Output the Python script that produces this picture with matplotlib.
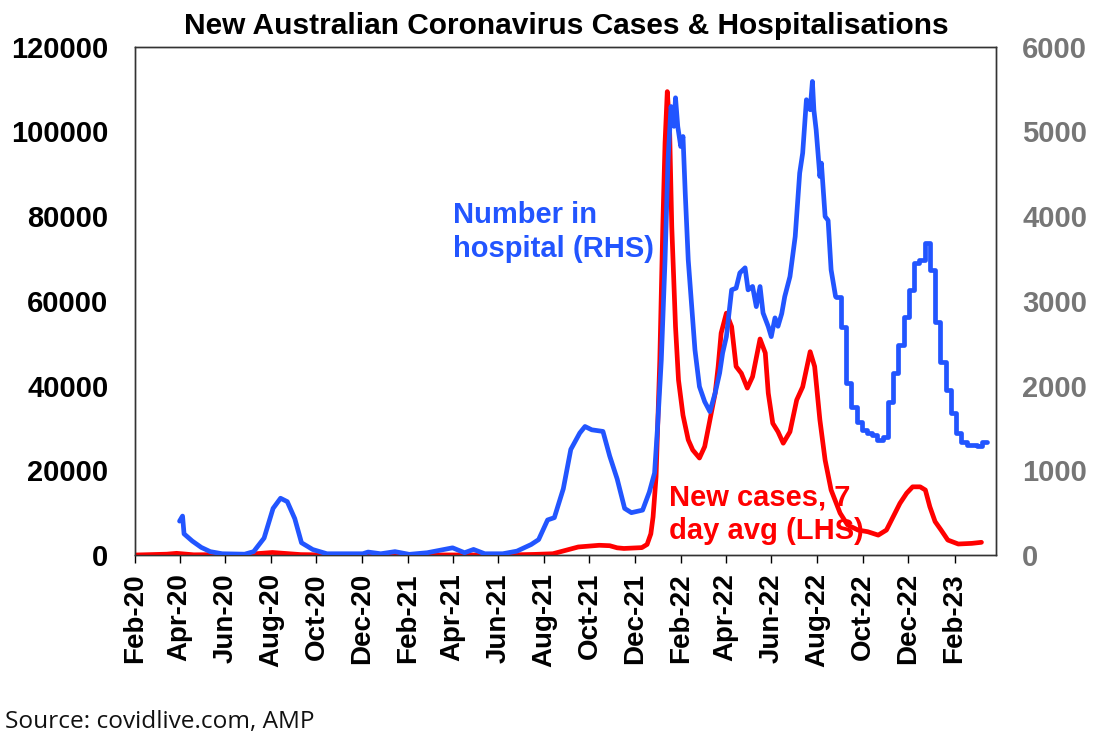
import numpy as np
import pandas as pd
import matplotlib
matplotlib.use("Agg")
import matplotlib.pyplot as plt
import matplotlib.dates as mdates

# Number in hospital (right axis) - daily-ish part
hosp_dates = [
    "2020-04-01", "2020-04-05", "2020-04-07", "2020-04-18", "2020-04-30", "2020-05-12",
    "2020-05-28", "2020-06-27", "2020-07-09", "2020-07-23", "2020-08-04", "2020-08-14",
    "2020-08-23", "2020-09-02", "2020-09-11", "2020-09-26", "2020-10-15", "2020-12-02",
    "2020-12-09", "2020-12-26", "2021-01-14", "2021-02-02", "2021-02-26", "2021-04-01",
    "2021-04-17", "2021-04-29", "2021-05-14", "2021-06-07", "2021-06-26", "2021-07-15",
    "2021-07-25", "2021-08-06", "2021-08-15", "2021-08-27", "2021-09-06", "2021-09-18",
    "2021-09-25", "2021-10-04", "2021-10-19", "2021-10-28", "2021-11-07", "2021-11-17",
    "2021-11-26", "2021-12-11", "2021-12-20", "2021-12-27", "2021-12-31", "2022-01-05",
    "2022-01-10", "2022-01-14", "2022-01-18", "2022-01-22", "2022-01-24", "2022-01-27",
    "2022-01-31", "2022-02-03", "2022-02-06", "2022-02-10", "2022-02-14", "2022-02-19",
    "2022-02-25", "2022-03-04", "2022-03-11", "2022-03-18", "2022-03-24", "2022-03-28",
    "2022-04-02", "2022-04-09", "2022-04-15", "2022-04-20", "2022-04-27", "2022-05-01",
    "2022-05-07", "2022-05-12", "2022-05-17", "2022-05-21", "2022-05-28", "2022-06-01",
    "2022-06-06", "2022-06-10", "2022-06-15", "2022-06-19", "2022-06-26", "2022-07-03",
    "2022-07-09", "2022-07-13", "2022-07-18", "2022-07-23", "2022-07-26", "2022-07-28",
    "2022-07-31", "2022-08-05", "2022-08-07", "2022-08-12", "2022-08-16", "2022-08-20",
    "2022-08-26",
]
hosp_values = [
    400, 460, 250, 165, 90, 40,
    15, 10, 40, 200, 550, 670,
    630, 430, 145, 65, 15, 15,
    35, 15, 40, 8, 27, 85,
    27, 66, 15, 15, 46, 124,
    182, 414, 441, 782, 1246, 1440,
    1517, 1478, 1459, 1169, 898, 550,
    500, 530, 743, 968, 1512, 2303,
    3484, 4665, 5294, 5060, 5397, 5058,
    4822, 4940, 4272, 3484, 3011, 2421,
    1988, 1810, 1692, 1913, 2149, 2385,
    2578, 3130, 3150, 3330, 3390, 3130,
    3170, 2932, 3169, 2858, 2696, 2578,
    2799, 2700, 2850, 3050, 3287, 3759,
    4509, 4745, 5374, 5256, 5590, 5250,
    5019, 4468, 4626, 3995, 3950, 3366,
    3050,
]

# Number in hospital, weekly reporting from late Aug 2022 (drawn as steps)
hosp_weekly_dates = [
    "2022-08-26", "2022-09-02", "2022-09-09", "2022-09-16", "2022-09-23", "2022-09-30",
    "2022-10-07", "2022-10-14", "2022-10-21", "2022-10-28", "2022-11-04", "2022-11-11",
    "2022-11-18", "2022-11-25", "2022-12-02", "2022-12-09", "2022-12-16", "2022-12-23",
    "2022-12-30", "2023-01-06", "2023-01-13", "2023-01-20", "2023-01-27", "2023-02-03",
    "2023-02-10", "2023-02-17", "2023-02-24", "2023-03-03", "2023-03-10", "2023-03-17",
]
hosp_weekly_values = [
    3050, 2696, 2031, 1751, 1574, 1476,
    1440, 1420, 1358, 1397, 1810, 2149,
    2480, 2814, 3130, 3448, 3484, 3685,
    3366, 2755, 2283, 1949, 1677, 1440,
    1338, 1299, 1299, 1287, 1338, 1338,
]

# New cases, 7 day average (left axis)
case_dates = [
    "2020-02-01", "2020-03-15", "2020-03-28", "2020-04-20", "2020-07-01", "2020-08-03",
    "2020-09-10", "2020-10-15", "2021-06-15", "2021-07-20", "2021-08-13", "2021-09-16",
    "2021-10-14", "2021-10-28", "2021-11-07", "2021-11-16", "2021-12-10", "2021-12-17",
    "2021-12-22", "2021-12-25", "2021-12-29", "2022-01-03", "2022-01-07", "2022-01-10",
    "2022-01-13", "2022-01-16", "2022-01-19", "2022-01-24", "2022-01-28", "2022-02-03",
    "2022-02-10", "2022-02-16", "2022-02-25", "2022-03-04", "2022-03-11", "2022-03-18",
    "2022-03-22", "2022-03-26", "2022-04-02", "2022-04-09", "2022-04-15", "2022-04-22",
    "2022-04-30", "2022-05-07", "2022-05-17", "2022-05-24", "2022-05-28", "2022-06-03",
    "2022-06-10", "2022-06-17", "2022-06-26", "2022-07-05", "2022-07-13", "2022-07-23",
    "2022-07-29", "2022-08-05", "2022-08-12", "2022-08-20", "2022-09-01", "2022-09-11",
    "2022-09-25", "2022-10-08", "2022-10-22", "2022-11-02", "2022-11-11", "2022-11-20",
    "2022-11-29", "2022-12-07", "2022-12-17", "2022-12-24", "2022-12-30", "2023-01-06",
    "2023-01-14", "2023-01-23", "2023-02-06", "2023-02-24", "2023-03-09",
]
case_values = [
    0, 200, 400, 50, 150, 600,
    100, 20, 15, 150, 300, 1900,
    2300, 2200, 1700, 1550, 1750, 2500,
    5000, 9000, 18500, 46000, 77500, 97300,
    109400, 101200, 77500, 53900, 41300, 33000,
    27200, 24800, 22900, 25600, 31900, 38200,
    44500, 52400, 57100, 53900, 44500, 42900,
    39400, 42100, 51000, 47700, 38200, 31100,
    29100, 26400, 29100, 36600, 39700, 48000,
    44500, 31900, 22400, 15350, 9900, 7100,
    5900, 5500, 4700, 5900, 9050, 12200,
    14600, 16100, 16100, 15350, 11400, 7900,
    5900, 3540, 2600, 2750, 3000,
]

left_ticks = [0, 20000, 40000, 60000, 80000, 100000, 120000]
right_ticks = [0, 1000, 2000, 3000, 4000, 5000, 6000]

hosp_x = pd.to_datetime(hosp_dates)
hosp_wx = pd.to_datetime(hosp_weekly_dates)
case_x = pd.to_datetime(case_dates)

BLUE = "#2255ff"
RED = "#ff0000"
GREY = "#767676"
FONT = "Liberation Sans"
LW = 3.4

fig = plt.figure(figsize=(11.03, 7.46), dpi=100)
ax = fig.add_axes([0.1221, 0.2560, 0.7806, 0.6814])
ax2 = ax.twinx()

ax.plot(case_x, case_values, color=RED, lw=LW, solid_joinstyle="round",
        solid_capstyle="round", zorder=3)
ax2.plot(hosp_x, hosp_values, color=BLUE, lw=LW, solid_joinstyle="round",
         solid_capstyle="round", zorder=3)
ax2.plot(hosp_wx, hosp_weekly_values, color=BLUE, lw=LW, drawstyle="steps-post",
         solid_joinstyle="round", solid_capstyle="round", zorder=3)

ax.set_xlim(pd.Timestamp("2020-02-01"), pd.Timestamp("2023-03-28"))
ax.set_ylim(0, 120000)
ax2.set_ylim(0, 6000)
ax.set_yticks(left_ticks)
ax.set_yticklabels([str(t) for t in left_ticks])
ax2.set_yticks(right_ticks)
ax2.set_yticklabels([str(t) for t in right_ticks])

ax.xaxis.set_major_locator(mdates.MonthLocator(bymonth=[2, 4, 6, 8, 10, 12]))
ax.xaxis.set_major_formatter(mdates.DateFormatter("%b-%y"))

for lab in ax.get_xticklabels():
    lab.set_rotation(90)
    lab.set_fontfamily(FONT)
    lab.set_fontweight("bold")
    lab.set_fontsize(20)
ax.tick_params(axis="x", direction="out", length=6, width=1, pad=7)
ax.tick_params(axis="y", length=0, pad=19, labelsize=21)
ax2.tick_params(axis="y", length=0, pad=19, labelsize=21, labelcolor=GREY)
for lab in ax.get_yticklabels() + ax2.get_yticklabels():
    lab.set_fontfamily(FONT)
    lab.set_fontweight("bold")

for a in (ax, ax2):
    for s in a.spines.values():
        s.set_linewidth(1.0)
        s.set_color("#333333")

fig.text(0.513, 1 - 34 / 746, "New Australian Coronavirus Cases & Hospitalisations",
         ha="center", va="baseline", fontsize=21.5, fontweight="bold", family=FONT)

ax.text(pd.Timestamp("2021-04-01"), 83500, "Number in\nhospital (RHS)", color=BLUE,
        fontsize=21, fontweight="bold", family=FONT, va="top", ha="left", linespacing=1.28)
ax.text(pd.Timestamp("2022-01-15"), 17000, "New cases, 7\nday avg (LHS)", color=RED,
        fontsize=21, fontweight="bold", family=FONT, va="top", ha="left", linespacing=1.28,
        zorder=5)

fig.text(5 / 1103, 1 - 728 / 746, "Source: covidlive.com, AMP", ha="left", va="baseline",
         fontsize=17.6, family="Open Sans", color="#111111")

fig.savefig("out.png", dpi=100)
